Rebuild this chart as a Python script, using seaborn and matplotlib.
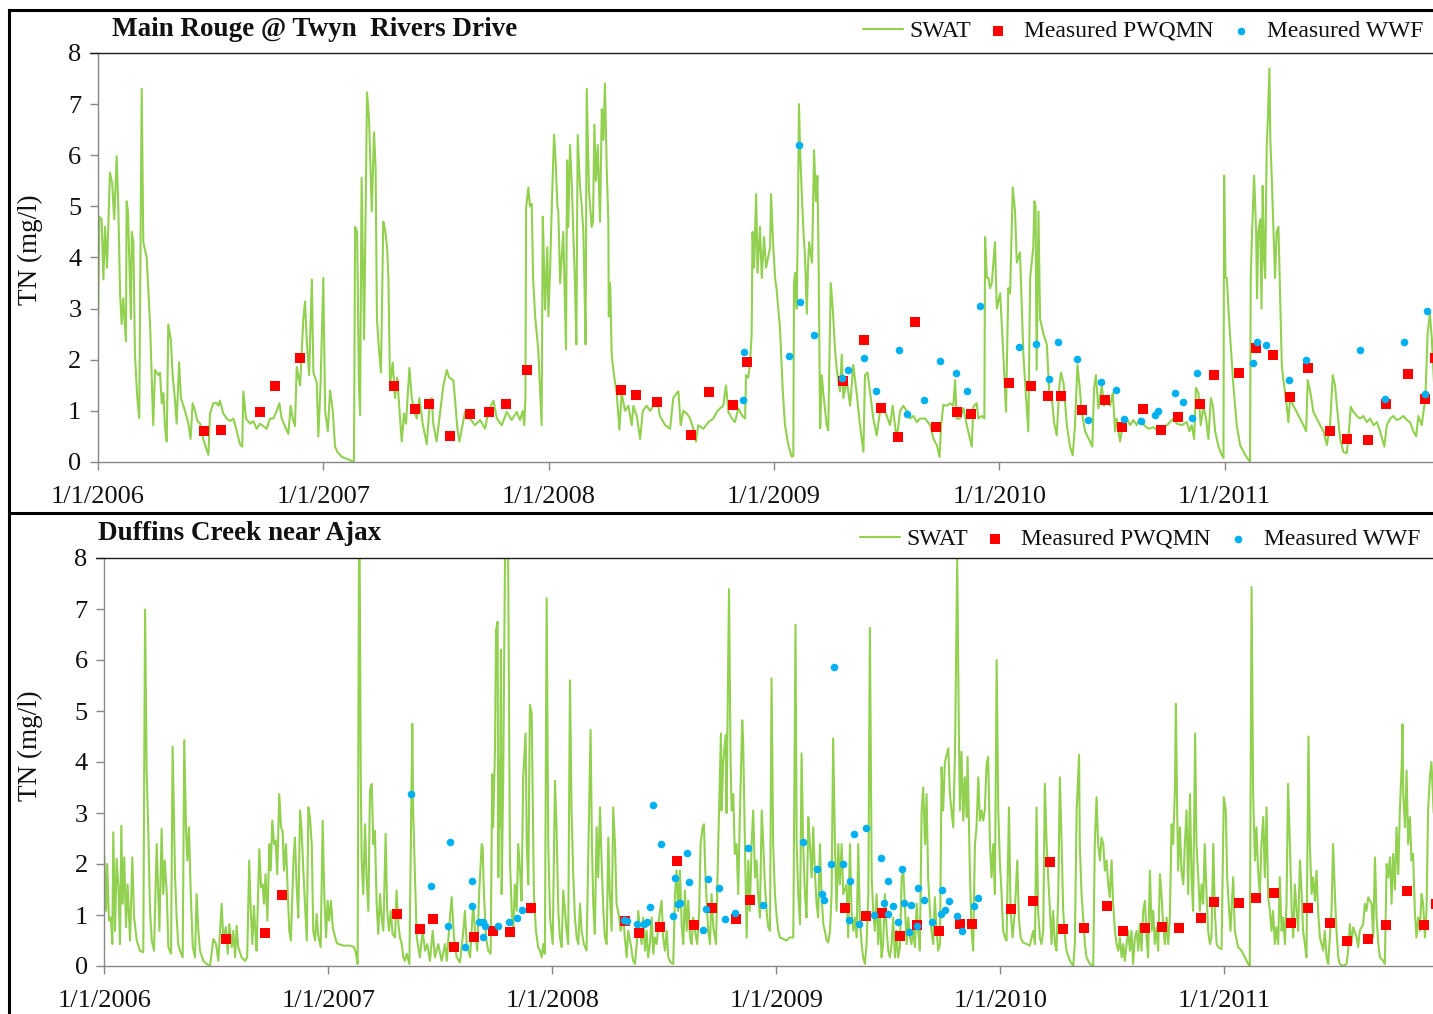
import matplotlib
matplotlib.use("Agg")
import matplotlib.pyplot as plt
from matplotlib.lines import Line2D
import pandas as pd
import seaborn as sns

sns.set_theme(style="ticks")
plt.rcParams["font.family"] = ["Liberation Serif", "DejaVu Serif"]

# ---------------- data ----------------
START_YEAR = 2006                      # x values below are years since 1/1/2006
tick_years = [2006, 2007, 2008, 2009, 2010, 2011]
tick_labels = ["1/1/2006", "1/1/2007", "1/1/2008", "1/1/2009", "1/1/2010", "1/1/2011"]
y_ticks = [0, 1, 2, 3, 4, 5, 6, 7, 8]
panel_titles = ["Main Rouge @ Twyn  Rivers Drive", "Duffins Creek near Ajax"]
series_names = ["SWAT", "Measured PWQMN", "Measured WWF"]
y_label = "TN (mg/l)"

rouge_swat = [(0.001,2.88),(0.006,4.8),(0.016,4.75),(0.024,3.57),(0.031,4.6),(0.040,3.8),(0.053,5.66),(0.063,5.45),(0.072,4.75),(0.083,5.98),(0.090,5.0),(0.098,3.3),(0.105,2.7),(0.112,3.2),(0.124,2.36),(0.127,5.1),(0.133,4.9),(0.146,2.8),(0.150,4.5),(0.157,4.3),(0.164,2.1),(0.174,1.28),(0.183,0.86),(0.194,7.3),(0.201,4.3),(0.216,4.0),(0.223,3.4),(0.231,2.7),(0.245,0.72),(0.253,1.8),(0.268,1.7),(0.275,1.75),(0.283,1.15),(0.290,1.35),(0.297,0.7),(0.305,0.4),(0.312,2.69),(0.323,2.4),(0.332,1.65),(0.342,1.2),(0.349,0.75),(0.360,1.95),(0.368,1.25),(0.379,1.1),(0.386,1.0),(0.401,0.75),(0.411,0.45),(0.420,1.15),(0.431,1.0),(0.441,0.8),(0.453,0.75),(0.467,0.45),(0.482,0.25),(0.490,0.14),(0.497,0.95),(0.512,1.15),(0.527,1.15),(0.534,1.1),(0.541,1.2),(0.556,0.95),(0.571,0.85),(0.586,0.8),(0.601,0.85),(0.616,0.6),(0.630,0.35),(0.640,0.3),(0.645,1.38),(0.657,0.85),(0.675,0.75),(0.689,0.8),(0.704,0.65),(0.719,0.75),(0.734,0.7),(0.749,0.65),(0.763,0.85),(0.778,0.85),(0.793,1.0),(0.805,1.15),(0.815,0.85),(0.830,0.7),(0.845,0.55),(0.855,1.1),(0.864,0.85),(0.874,0.7),(0.882,1.86),(0.897,1.5),(0.911,2.78),(0.919,3.14),(0.926,2.4),(0.937,1.7),(0.949,3.57),(0.956,1.75),(0.971,1.55),(0.978,0.5),(0.988,1.55),(1.000,3.6),(1.008,1.0),(1.020,0.6),(1.030,1.4),(1.042,1.0),(1.052,0.3),(1.062,0.2),(1.082,0.1),(1.111,0.05),(1.136,0.0),(1.141,4.6),(1.150,4.5),(1.158,1.5),(1.163,0.92),(1.170,5.56),(1.181,2.4),(1.194,7.23),(1.203,6.7),(1.215,4.9),(1.225,6.45),(1.232,5.75),(1.238,2.8),(1.247,2.2),(1.256,1.75),(1.266,4.7),(1.274,4.55),(1.283,4.2),(1.289,3.6),(1.296,1.5),(1.308,1.95),(1.318,1.25),(1.328,1.65),(1.337,1.1),(1.348,0.4),(1.358,0.95),(1.367,0.75),(1.382,1.84),(1.392,1.28),(1.403,1.0),(1.415,0.85),(1.426,1.25),(1.441,0.75),(1.459,0.35),(1.470,1.0),(1.481,1.25),(1.488,0.75),(1.503,0.4),(1.515,0.85),(1.533,1.5),(1.548,1.8),(1.559,1.65),(1.577,1.6),(1.585,1.2),(1.595,0.65),(1.604,0.4),(1.629,0.98),(1.651,0.85),(1.673,0.72),(1.696,0.82),(1.718,0.65),(1.732,0.98),(1.755,1.2),(1.770,0.85),(1.792,0.72),(1.814,0.98),(1.836,0.82),(1.858,0.98),(1.873,0.82),(1.885,1.0),(1.892,0.72),(1.897,1.25),(1.900,4.97),(1.910,5.37),(1.917,5.0),(1.925,5.05),(1.931,3.6),(1.940,2.85),(1.954,2.2),(1.962,1.4),(1.969,0.72),(1.974,4.8),(1.976,4.5),(1.984,2.98),(1.994,4.2),(1.999,2.85),(2.006,3.7),(2.014,5.0),(2.024,6.4),(2.031,5.9),(2.039,5.0),(2.043,4.9),(2.051,3.5),(2.065,4.5),(2.077,2.2),(2.082,5.9),(2.087,4.6),(2.095,6.2),(2.103,5.4),(2.110,4.4),(2.117,3.5),(2.123,2.3),(2.129,6.4),(2.139,5.4),(2.147,5.0),(2.154,4.5),(2.159,3.5),(2.164,2.3),(2.169,7.3),(2.179,5.3),(2.191,4.6),(2.197,4.7),(2.203,6.6),(2.210,5.5),(2.218,6.2),(2.228,4.7),(2.236,6.9),(2.243,6.3),(2.250,7.4),(2.258,5.7),(2.265,4.7),(2.267,2.85),(2.273,3.5),(2.280,2.1),(2.290,1.7),(2.302,1.35),(2.314,0.63),(2.324,1.35),(2.339,1.0),(2.354,1.1),(2.369,0.72),(2.376,1.1),(2.391,0.9),(2.406,0.45),(2.418,1.0),(2.435,1.1),(2.450,1.0),(2.465,1.1),(2.480,1.25),(2.494,0.9),(2.517,0.72),(2.539,0.65),(2.553,1.25),(2.569,1.35),(2.576,1.38),(2.586,0.72),(2.598,1.0),(2.613,0.95),(2.628,0.85),(2.642,0.65),(2.654,0.4),(2.664,0.72),(2.687,0.65),(2.709,0.78),(2.731,0.85),(2.746,0.98),(2.761,1.05),(2.775,1.1),(2.787,1.5),(2.798,0.98),(2.813,0.85),(2.827,0.78),(2.842,1.05),(2.857,0.92),(2.872,0.85),(2.876,1.7),(2.886,1.65),(2.894,1.95),(2.901,2.5),(2.905,4.5),(2.912,3.8),(2.921,5.24),(2.927,3.7),(2.938,4.6),(2.946,3.6),(2.956,4.4),(2.965,3.8),(2.983,4.2),(2.987,5.24),(2.996,4.3),(3.005,3.6),(3.012,3.37),(3.027,2.6),(3.039,1.4),(3.049,0.72),(3.064,0.33),(3.079,0.1),(3.086,0.12),(3.089,3.5),(3.094,3.7),(3.101,3.0),(3.107,5.0),(3.111,7.0),(3.116,6.1),(3.123,5.3),(3.131,4.5),(3.138,4.0),(3.146,2.9),(3.151,3.8),(3.156,4.3),(3.169,3.9),(3.178,6.1),(3.186,5.1),(3.193,5.6),(3.198,4.0),(3.205,0.66),(3.212,1.7),(3.219,1.35),(3.234,0.72),(3.241,0.62),(3.252,3.5),(3.261,3.0),(3.271,2.2),(3.279,1.8),(3.293,1.38),(3.301,2.1),(3.308,1.25),(3.323,1.6),(3.338,1.1),(3.352,1.9),(3.367,1.35),(3.382,0.72),(3.397,0.2),(3.404,1.7),(3.415,1.75),(3.427,1.35),(3.441,0.85),(3.456,0.52),(3.471,1.0),(3.486,1.05),(3.501,0.9),(3.515,0.72),(3.527,1.1),(3.537,0.72),(3.545,0.45),(3.560,1.0),(3.574,1.1),(3.589,1.0),(3.604,0.85),(3.619,0.9),(3.634,0.78),(3.648,0.85),(3.671,0.85),(3.693,0.72),(3.708,0.45),(3.723,0.33),(3.735,0.1),(3.742,0.72),(3.752,1.12),(3.767,1.1),(3.782,1.15),(3.796,1.1),(3.804,1.6),(3.811,0.85),(3.826,0.85),(3.841,1.05),(3.856,0.72),(3.878,0.3),(3.885,1.08),(3.900,1.15),(3.907,0.85),(3.922,0.9),(3.934,0.85),(3.937,4.4),(3.945,3.6),(3.952,3.6),(3.959,3.4),(3.967,3.5),(3.981,4.3),(3.989,3.0),(4.004,3.3),(4.018,2.1),(4.030,0.98),(4.040,3.4),(4.048,3.3),(4.060,5.37),(4.070,4.9),(4.078,3.9),(4.092,4.1),(4.107,2.1),(4.119,1.25),(4.129,0.6),(4.137,3.6),(4.151,4.2),(4.156,5.1),(4.161,5.0),(4.166,1.8),(4.174,4.9),(4.181,2.8),(4.196,2.5),(4.211,2.3),(4.222,1.35),(4.233,1.28),(4.243,0.78),(4.255,0.52),(4.267,1.5),(4.274,1.75),(4.285,1.55),(4.300,0.72),(4.314,0.3),(4.326,0.13),(4.336,0.72),(4.347,1.9),(4.356,1.5),(4.366,0.98),(4.381,0.6),(4.403,0.4),(4.413,0.3),(4.421,1.45),(4.429,1.7),(4.440,1.05),(4.455,1.5),(4.465,1.1),(4.477,1.25),(4.492,1.1),(4.504,1.35),(4.514,0.6),(4.521,0.85),(4.536,0.4),(4.548,0.72),(4.566,0.85),(4.581,0.72),(4.595,0.82),(4.610,0.72),(4.625,0.85),(4.643,0.72),(4.662,0.65),(4.684,0.68),(4.706,0.6),(4.728,0.65),(4.751,0.75),(4.773,0.85),(4.788,0.75),(4.810,0.72),(4.832,0.78),(4.844,0.6),(4.854,0.72),(4.865,0.45),(4.873,1.45),(4.884,1.35),(4.894,0.72),(4.906,1.08),(4.918,0.85),(4.928,0.45),(4.939,1.25),(4.948,1.1),(4.958,0.6),(4.973,0.3),(4.988,0.13),(4.995,0.08),(4.998,5.6),(5.004,3.6),(5.010,3.6),(5.017,3.0),(5.024,2.5),(5.039,1.5),(5.054,0.72),(5.069,0.33),(5.091,0.14),(5.113,0.0),(5.116,3.6),(5.122,4.5),(5.131,5.6),(5.140,4.5),(5.144,3.2),(5.150,4.5),(5.158,4.75),(5.164,3.0),(5.169,5.4),(5.175,4.0),(5.180,3.6),(5.187,6.2),(5.192,6.7),(5.199,7.7),(5.203,6.3),(5.209,5.6),(5.217,4.5),(5.224,3.6),(5.231,4.5),(5.239,4.6),(5.246,3.3),(5.254,1.9),(5.261,1.6),(5.276,1.1),(5.283,0.78),(5.291,1.25),(5.305,1.1),(5.320,0.98),(5.335,0.85),(5.350,0.72),(5.362,0.6),(5.369,1.6),(5.380,1.38),(5.394,0.98),(5.409,0.85),(5.424,0.72),(5.439,0.6),(5.454,0.33),(5.468,0.72),(5.480,1.7),(5.490,1.5),(5.501,0.98),(5.513,0.45),(5.527,0.2),(5.542,0.17),(5.549,0.45),(5.560,1.08),(5.572,0.98),(5.587,0.9),(5.601,0.85),(5.616,0.9),(5.631,0.78),(5.646,0.85),(5.661,0.72),(5.676,0.78),(5.690,0.6),(5.709,0.3),(5.720,0.72),(5.735,0.85),(5.749,0.9),(5.764,0.82),(5.779,0.85),(5.794,0.9),(5.809,0.82),(5.823,0.78),(5.838,0.6),(5.850,0.5),(5.860,0.9),(5.875,0.72),(5.891,1.25),(5.901,2.5),(5.911,2.9),(5.920,2.4),(5.930,1.5)]

rouge_pwqmn = [(0.472,0.61),(0.545,0.62),(0.720,0.97),(0.787,1.49),(0.895,2.03),(1.312,1.49),(1.406,1.04),(1.470,1.14),(1.562,0.50),(1.653,0.93),(1.735,0.97),(1.811,1.14),(1.904,1.79),(2.323,1.40),(2.387,1.31),(2.480,1.17),(2.633,0.53),(2.711,1.36),(2.820,1.11),(2.881,1.96),(3.308,1.59),(3.400,2.39),(3.474,1.05),(3.549,0.48),(3.626,2.73),(3.719,0.69),(3.813,0.97),(3.873,0.93),(4.043,1.54),(4.141,1.48),(4.218,1.29),(4.274,1.29),(4.369,1.01),(4.470,1.21),(4.546,0.68),(4.640,1.04),(4.717,0.62),(4.794,0.88),(4.893,1.14),(4.952,1.70),(5.063,1.74),(5.138,2.23),(5.217,2.09),(5.291,1.28),(5.369,1.83),(5.467,0.60),(5.544,0.45),(5.638,0.43),(5.715,1.14),(5.813,1.72),(5.890,1.24),(5.934,2.04)]

rouge_wwf = [(2.864,1.22),(2.867,2.16),(3.068,2.08),(3.111,6.2),(3.116,3.12),(3.179,2.48),(3.304,1.65),(3.328,1.79),(3.400,2.03),(3.452,1.39),(3.555,2.20),(3.589,0.94),(3.667,1.22),(3.737,1.97),(3.807,1.75),(3.858,1.39),(3.916,3.05),(4.088,2.24),(4.163,2.31),(4.220,1.62),(4.262,2.35),(4.347,2.02),(4.394,0.83),(4.453,1.56),(4.518,1.41),(4.555,0.85),(4.629,0.81),(4.693,0.91),(4.706,1.0),(4.782,1.34),(4.817,1.17),(4.857,0.87),(4.876,1.75),(5.126,1.94),(5.144,2.34),(5.184,2.29),(5.285,1.60),(5.360,2.0),(5.601,2.19),(5.714,1.23),(5.795,2.34),(5.890,1.33),(5.900,2.96)]

duffins_swat = [(0.000,2.16),(0.008,1.08),(0.013,2.0),(0.021,0.89),(0.029,0.95),(0.036,0.43),(0.040,2.62),(0.048,0.69),(0.055,2.1),(0.063,1.54),(0.070,0.43),(0.076,2.75),(0.082,1.22),(0.089,2.13),(0.097,0.76),(0.104,1.6),(0.115,0.5),(0.125,2.13),(0.133,0.95),(0.145,0.5),(0.159,0.3),(0.174,0.27),(0.182,6.99),(0.189,3.83),(0.196,2.72),(0.204,1.1),(0.212,0.5),(0.222,0.3),(0.234,2.39),(0.246,0.69),(0.256,2.69),(0.263,1.41),(0.270,2.07),(0.279,1.41),(0.286,0.37),(0.298,0.24),(0.305,4.3),(0.316,1.74),(0.323,0.95),(0.330,0.43),(0.338,0.3),(0.350,0.17),(0.357,4.43),(0.365,2.65),(0.371,2.07),(0.378,2.72),(0.386,1.41),(0.395,0.37),(0.405,0.17),(0.412,1.41),(0.420,0.69),(0.427,0.3),(0.442,0.1),(0.457,0.04),(0.472,0.0),(0.487,0.53),(0.499,0.43),(0.509,0.1),(0.524,1.22),(0.531,0.56),(0.543,0.76),(0.551,0.24),(0.558,0.82),(0.569,0.37),(0.576,0.69),(0.584,0.17),(0.591,0.79),(0.598,0.37),(0.613,0.17),(0.628,0.1),(0.638,0.17),(0.647,2.07),(0.654,1.08),(0.661,0.43),(0.668,1.18),(0.674,0.69),(0.680,0.3),(0.692,2.29),(0.700,1.54),(0.707,1.6),(0.713,1.22),(0.720,1.8),(0.728,0.89),(0.737,2.39),(0.743,1.87),(0.750,2.85),(0.758,2.39),(0.765,2.46),(0.772,1.8),(0.781,3.37),(0.789,2.72),(0.796,2.65),(0.802,1.87),(0.811,2.39),(0.817,1.67),(0.826,0.69),(0.833,0.5),(0.844,2.0),(0.851,2.52),(0.859,1.54),(0.866,0.95),(0.874,3.05),(0.881,2.65),(0.888,1.93),(0.896,1.22),(0.904,0.5),(0.911,3.11),(0.918,2.92),(0.926,2.39),(0.933,0.69),(0.941,0.5),(0.948,1.02),(0.955,0.6),(0.966,0.37),(0.975,2.85),(0.982,1.41),(0.990,0.56),(0.997,1.28),(1.004,0.89),(1.012,1.28),(1.020,0.76),(1.027,0.63),(1.037,0.46),(1.045,0.43),(1.067,0.4),(1.097,0.4),(1.115,0.37),(1.124,0.24),(1.131,0.04),(1.137,8.0),(1.140,8.0),(1.145,3.7),(1.149,2.07),(1.156,1.41),(1.164,2.78),(1.171,1.74),(1.179,1.08),(1.186,3.44),(1.194,3.57),(1.201,2.39),(1.208,2.65),(1.216,1.22),(1.223,0.63),(1.231,1.41),(1.238,0.95),(1.246,0.69),(1.256,2.59),(1.263,1.08),(1.271,0.69),(1.279,1.08),(1.287,0.63),(1.298,0.56),(1.305,1.48),(1.313,0.82),(1.320,0.56),(1.328,0.43),(1.335,0.17),(1.342,0.1),(1.350,0.24),(1.362,0.04),(1.375,4.75),(1.379,3.05),(1.387,1.74),(1.395,0.56),(1.409,0.17),(1.421,0.69),(1.432,0.3),(1.442,0.43),(1.454,0.1),(1.466,0.69),(1.476,0.17),(1.491,0.43),(1.506,0.1),(1.521,0.43),(1.529,0.1),(1.543,0.95),(1.551,1.35),(1.561,0.56),(1.573,0.17),(1.588,0.07),(1.603,0.69),(1.610,1.08),(1.618,0.43),(1.633,0.17),(1.647,1.22),(1.655,0.69),(1.665,0.3),(1.674,1.48),(1.685,2.39),(1.689,2.33),(1.695,1.41),(1.704,0.56),(1.714,0.3),(1.725,0.24),(1.732,3.76),(1.736,2.72),(1.744,4.2),(1.749,6.59),(1.756,6.75),(1.759,1.74),(1.763,4.04),(1.766,2.72),(1.771,6.2),(1.774,1.41),(1.781,3.7),(1.789,8.0),(1.798,8.0),(1.803,8.0),(1.811,2.07),(1.819,1.08),(1.826,0.69),(1.833,1.6),(1.841,1.08),(1.848,2.39),(1.856,1.87),(1.863,1.28),(1.870,3.7),(1.881,4.56),(1.886,2.39),(1.893,1.6),(1.900,5.12),(1.908,4.96),(1.912,3.5),(1.918,1.41),(1.927,0.69),(1.937,0.37),(1.945,0.3),(1.953,0.17),(1.960,0.43),(1.967,0.24),(1.975,7.21),(1.982,2.39),(1.990,0.95),(2.002,0.43),(2.012,3.63),(2.019,2.72),(2.027,1.08),(2.034,0.56),(2.042,0.37),(2.049,1.48),(2.057,1.08),(2.064,0.69),(2.071,0.43),(2.079,5.6),(2.086,3.05),(2.094,1.74),(2.101,0.95),(2.109,0.56),(2.116,0.43),(2.124,1.22),(2.131,0.69),(2.141,0.43),(2.153,0.3),(2.171,4.63),(2.177,2.39),(2.183,1.22),(2.190,0.63),(2.198,2.72),(2.205,1.74),(2.213,3.11),(2.220,2.07),(2.228,1.08),(2.235,0.56),(2.243,0.43),(2.250,2.52),(2.257,1.41),(2.265,0.69),(2.272,3.11),(2.280,2.39),(2.287,1.22),(2.299,0.95),(2.305,0.69),(2.317,0.95),(2.324,0.56),(2.332,0.17),(2.339,0.69),(2.350,0.43),(2.361,0.1),(2.369,0.04),(2.377,0.43),(2.384,1.08),(2.391,0.69),(2.399,0.43),(2.406,0.95),(2.414,0.3),(2.421,0.69),(2.428,0.17),(2.436,0.43),(2.444,0.95),(2.451,0.24),(2.458,0.56),(2.466,0.43),(2.477,0.95),(2.488,1.28),(2.495,0.56),(2.503,0.3),(2.511,0.69),(2.518,0.17),(2.528,0.07),(2.540,0.04),(2.548,1.41),(2.555,1.87),(2.562,1.08),(2.570,1.87),(2.578,0.76),(2.585,0.43),(2.592,1.48),(2.600,0.69),(2.607,1.28),(2.615,0.56),(2.622,0.43),(2.629,0.95),(2.637,0.69),(2.647,0.43),(2.656,1.08),(2.662,2.39),(2.671,2.72),(2.677,2.78),(2.683,1.87),(2.689,1.28),(2.696,0.69),(2.704,0.43),(2.711,1.41),(2.719,0.76),(2.731,0.43),(2.741,2.39),(2.753,4.56),(2.756,3.05),(2.763,4.0),(2.774,4.53),(2.778,3.0),(2.789,7.39),(2.796,4.0),(2.801,3.05),(2.808,3.37),(2.815,2.2),(2.823,2.39),(2.830,1.41),(2.838,3.05),(2.848,4.82),(2.852,4.43),(2.860,2.39),(2.868,0.56),(2.875,2.07),(2.882,1.08),(2.890,2.39),(2.897,3.05),(2.905,1.74),(2.912,2.07),(2.919,1.41),(2.927,0.95),(2.935,3.05),(2.942,2.39),(2.949,1.6),(2.957,1.08),(2.964,0.76),(2.972,0.69),(2.979,5.64),(2.986,2.39),(2.994,1.41),(3.002,0.95),(3.009,0.69),(3.016,0.56),(3.031,0.53),(3.046,0.5),(3.061,0.56),(3.076,0.56),(3.086,6.69),(3.091,2.39),(3.098,1.41),(3.106,0.82),(3.113,4.17),(3.120,2.39),(3.128,1.41),(3.135,0.95),(3.143,2.92),(3.150,2.39),(3.158,1.74),(3.165,2.72),(3.172,1.87),(3.180,1.22),(3.187,0.95),(3.195,2.39),(3.202,1.41),(3.210,0.82),(3.217,0.69),(3.225,0.5),(3.232,0.46),(3.240,0.69),(3.247,1.41),(3.254,4.46),(3.262,2.39),(3.269,1.08),(3.277,2.39),(3.284,1.6),(3.292,2.39),(3.299,1.41),(3.314,1.6),(3.321,0.56),(3.329,2.39),(3.336,1.08),(3.344,0.69),(3.351,0.95),(3.359,0.56),(3.366,2.39),(3.373,0.95),(3.381,0.43),(3.388,0.17),(3.396,0.04),(3.403,0.43),(3.411,1.41),(3.418,6.63),(3.426,1.74),(3.433,1.08),(3.440,0.69),(3.448,1.41),(3.455,0.43),(3.463,1.08),(3.470,0.17),(3.477,0.43),(3.485,1.41),(3.493,0.69),(3.500,0.3),(3.507,0.17),(3.515,0.43),(3.522,0.95),(3.530,0.17),(3.537,0.69),(3.544,0.17),(3.552,0.37),(3.560,1.74),(3.567,1.87),(3.574,1.22),(3.582,0.43),(3.589,0.95),(3.597,0.56),(3.604,0.43),(3.611,0.76),(3.619,0.37),(3.627,1.22),(3.634,0.69),(3.641,0.3),(3.649,3.05),(3.656,3.5),(3.664,2.39),(3.671,3.37),(3.678,1.74),(3.686,1.08),(3.693,0.69),(3.701,0.43),(3.708,1.35),(3.716,0.69),(3.723,0.3),(3.731,0.43),(3.738,3.9),(3.745,3.05),(3.753,4.0),(3.768,4.27),(3.775,3.37),(3.790,2.72),(3.798,4.2),(3.808,8.0),(3.815,4.66),(3.820,3.05),(3.827,4.2),(3.835,2.85),(3.842,3.7),(3.850,2.92),(3.854,4.1),(3.865,1.74),(3.872,0.69),(3.879,0.3),(3.887,2.39),(3.894,2.72),(3.902,3.7),(3.909,2.85),(3.917,3.05),(3.924,2.85),(3.931,3.05),(3.939,3.96),(3.946,4.1),(3.954,2.39),(3.961,1.74),(3.969,2.39),(3.976,1.41),(3.984,6.0),(3.991,3.05),(3.998,2.07),(4.006,1.41),(4.013,0.69),(4.021,0.56),(4.028,0.5),(4.039,3.11),(4.046,1.08),(4.055,0.56),(4.065,1.08),(4.076,2.07),(4.083,0.95),(4.091,0.56),(4.102,0.46),(4.118,0.43),(4.132,0.4),(4.147,0.69),(4.155,0.43),(4.162,3.11),(4.169,1.08),(4.177,0.56),(4.184,0.43),(4.192,0.69),(4.199,3.57),(4.207,2.39),(4.214,1.74),(4.222,1.08),(4.229,0.43),(4.236,1.08),(4.244,0.43),(4.251,0.3),(4.259,1.41),(4.266,3.7),(4.274,2.39),(4.281,1.08),(4.289,0.56),(4.296,0.3),(4.311,0.1),(4.326,0.0),(4.333,0.43),(4.341,3.05),(4.352,4.14),(4.355,2.39),(4.363,1.41),(4.370,0.95),(4.378,0.43),(4.385,0.17),(4.400,0.04),(4.415,0.0),(4.422,2.39),(4.430,3.31),(4.437,2.39),(4.445,2.07),(4.452,2.52),(4.460,2.39),(4.467,1.87),(4.475,2.07),(4.482,1.6),(4.489,1.35),(4.497,2.07),(4.504,1.22),(4.512,0.69),(4.519,0.43),(4.527,0.3),(4.534,0.56),(4.542,0.17),(4.549,0.43),(4.556,0.1),(4.564,0.43),(4.571,0.69),(4.579,0.3),(4.586,0.69),(4.593,0.04),(4.601,0.56),(4.609,0.69),(4.616,0.3),(4.623,0.82),(4.631,0.3),(4.638,1.08),(4.646,1.28),(4.653,0.56),(4.660,0.17),(4.668,1.87),(4.676,0.69),(4.683,1.08),(4.690,0.43),(4.698,0.76),(4.705,0.3),(4.713,1.8),(4.720,1.41),(4.727,0.82),(4.735,0.43),(4.743,0.95),(4.750,0.43),(4.757,0.95),(4.765,2.78),(4.772,2.39),(4.780,3.5),(4.784,5.14),(4.790,3.05),(4.794,1.87),(4.802,2.72),(4.809,1.87),(4.817,1.6),(4.824,2.39),(4.832,3.05),(4.839,1.41),(4.847,3.37),(4.854,1.74),(4.861,1.08),(4.870,4.56),(4.876,2.39),(4.884,1.74),(4.891,1.08),(4.899,1.6),(4.906,1.22),(4.913,2.39),(4.921,1.41),(4.928,0.69),(4.936,0.43),(4.943,0.56),(4.951,2.39),(4.958,1.08),(4.966,0.43),(4.973,0.37),(4.988,0.33),(4.998,3.31),(5.007,3.05),(5.013,1.74),(5.022,1.08),(5.028,0.69),(5.040,1.74),(5.047,0.69),(5.062,0.37),(5.077,0.3),(5.092,0.17),(5.107,0.04),(5.114,0.0),(5.122,7.43),(5.129,3.37),(5.137,2.07),(5.144,2.72),(5.151,1.87),(5.159,1.41),(5.166,2.39),(5.174,2.92),(5.181,1.74),(5.189,3.11),(5.196,1.35),(5.204,1.08),(5.211,0.69),(5.218,1.08),(5.226,0.43),(5.233,0.76),(5.241,0.43),(5.248,1.74),(5.256,0.69),(5.263,0.95),(5.271,0.43),(5.278,1.22),(5.285,3.57),(5.293,2.39),(5.301,1.08),(5.308,0.56),(5.315,1.6),(5.323,1.08),(5.330,0.69),(5.338,2.07),(5.345,1.48),(5.352,0.69),(5.360,0.43),(5.367,0.17),(5.376,4.5),(5.382,2.39),(5.390,1.41),(5.397,1.74),(5.405,1.28),(5.412,1.87),(5.419,1.08),(5.427,0.56),(5.442,0.3),(5.449,0.69),(5.457,0.17),(5.464,0.04),(5.479,1.08),(5.486,2.39),(5.494,1.41),(5.501,0.69),(5.509,0.17),(5.516,0.04),(5.531,0.0),(5.546,0.04),(5.553,0.3),(5.561,0.82),(5.568,0.43),(5.576,0.76),(5.591,0.56),(5.598,0.37),(5.605,0.69),(5.620,0.82),(5.628,1.22),(5.635,1.08),(5.643,1.35),(5.658,1.22),(5.665,0.56),(5.673,2.13),(5.680,0.95),(5.688,0.43),(5.695,0.17),(5.710,0.1),(5.717,0.04),(5.725,2.0),(5.732,1.74),(5.740,2.13),(5.747,1.22),(5.754,2.2),(5.762,1.5),(5.769,2.72),(5.777,1.8),(5.784,3.05),(5.792,3.9),(5.796,4.74),(5.799,3.37),(5.807,2.72),(5.814,3.83),(5.821,2.39),(5.829,2.92),(5.836,2.07),(5.843,2.2),(5.851,1.08),(5.858,0.56),(5.866,0.95),(5.873,0.69),(5.881,1.41),(5.888,1.22),(5.896,0.56),(5.903,1.08),(5.910,3.05),(5.918,3.7),(5.925,4.0),(5.935,3.0)]

duffins_pwqmn = [(0.542,0.53),(0.717,0.64),(0.795,1.40),(1.308,1.01),(1.408,0.73),(1.467,0.93),(1.561,0.37),(1.652,0.56),(1.734,0.69),(1.811,0.66),(1.903,1.14),(2.324,0.89),(2.388,0.64),(2.479,0.76),(2.557,2.05),(2.634,0.81),(2.711,1.14),(2.821,0.92),(2.882,1.30),(3.306,1.14),(3.400,0.98),(3.473,1.04),(3.551,0.59),(3.629,0.80),(3.726,0.68),(3.820,0.83),(3.875,0.83),(4.048,1.11),(4.147,1.28),(4.223,2.03),(4.280,0.72),(4.373,0.74),(4.476,1.17),(4.549,0.68),(4.644,0.74),(4.720,0.76),(4.797,0.74),(4.896,0.95),(4.955,1.26),(5.068,1.24),(5.144,1.33),(5.222,1.43),(5.299,0.85),(5.375,1.13),(5.472,0.85),(5.547,0.50),(5.641,0.53),(5.720,0.81),(5.818,1.48),(5.894,0.81),(5.945,1.22)]

duffins_wwf = [(1.369,3.37),(1.458,1.56),(1.536,0.79),(1.545,2.43),(1.609,0.38),(1.640,1.66),(1.643,1.17),(1.672,0.87),(1.689,0.57),(1.692,0.87),(1.699,0.78),(1.759,0.78),(1.807,0.87),(1.841,0.94),(1.863,1.1),(2.321,0.91),(2.332,0.89),(2.377,0.82),(2.411,0.82),(2.421,0.87),(2.436,1.15),(2.448,3.16),(2.486,2.39),(2.540,0.98),(2.549,1.73),(2.562,1.22),(2.570,1.23),(2.600,2.22),(2.611,1.64),(2.673,0.7),(2.685,1.12),(2.696,1.71),(2.744,1.53),(2.771,0.92),(2.815,1.04),(2.875,2.31),(2.940,1.2),(3.118,2.44),(3.182,1.9),(3.203,1.41),(3.213,1.3),(3.243,2.0),(3.256,5.87),(3.299,2.0),(3.324,0.9),(3.329,1.66),(3.348,2.58),(3.370,0.82),(3.400,2.71),(3.435,1.0),(3.466,2.12),(3.482,1.24),(3.497,1.01),(3.500,1.66),(3.522,1.17),(3.542,0.87),(3.560,1.9),(3.571,1.24),(3.594,0.66),(3.600,1.19),(3.629,0.79),(3.634,1.53),(3.658,1.3),(3.696,0.87),(3.734,1.01),(3.740,1.5),(3.753,1.1),(3.771,1.27),(3.805,0.99),(3.829,0.68),(3.884,1.18),(3.899,1.34)]

# ---------------- style ----------------
GREEN = "#92D050"
RED = "#FF0000"
BLUE = "#00B0F0"
AXIS_GREY = "#878787"

W, H = 1433, 1014
fig = plt.figure(figsize=(W / 100, H / 100), dpi=100)
fig.patch.set_facecolor("white")


def frame(rows):
    return pd.DataFrame(rows, columns=["t", "tn"]).assign(date=lambda d: START_YEAR + d["t"])


panels = [
    dict(swat=rouge_swat, pw=rouge_pwqmn, wwf=rouge_wwf, title=panel_titles[0],
         pos=[98, 53, 462], xmax=5.925, title_xy=(112, 30), legend_xy=(1423, 31),
         ylab_xy=(-0.041, 0.52)),
    dict(swat=duffins_swat, pw=duffins_pwqmn, wwf=duffins_wwf, title=panel_titles[1],
         pos=[104.3, 558, 966], xmax=5.932, title_xy=(98, 533), legend_xy=(1420, 539),
         ylab_xy=(-0.046, 0.54)),
]

for p in panels:
    left, top, bottom = p["pos"]
    ax = fig.add_axes([left / W, 1 - bottom / H, 1 - left / W, (bottom - top) / H])
    ax.set_facecolor("white")

    sns.lineplot(data=frame(p["swat"]), x="date", y="tn", ax=ax, color=GREEN,
                 linewidth=1.5, estimator=None, sort=False, label=series_names[0])
    sns.scatterplot(data=frame(p["pw"]), x="date", y="tn", ax=ax, color=RED,
                    marker="s", s=48, linewidth=0, label=series_names[1], zorder=3)
    sns.scatterplot(data=frame(p["wwf"]), x="date", y="tn", ax=ax, color=BLUE,
                    marker="o", s=30, linewidth=0, label=series_names[2], zorder=4)

    ax.set_xlim(START_YEAR, START_YEAR + p["xmax"])
    ax.set_ylim(0, 8)
    ax.set_xticks(tick_years)
    ax.set_xticklabels(tick_labels)
    ax.set_yticks(y_ticks)
    ax.set_xlabel("")
    ax.set_ylabel(y_label, fontsize=19.5, color="#111111")
    ax.yaxis.set_label_coords(*p["ylab_xy"])

    for side in ["right", "top"]:
        ax.spines[side].set_visible(False)
    for side in ["left", "bottom"]:
        ax.spines[side].set_color(AXIS_GREY)
        ax.spines[side].set_linewidth(1.0)
    ax.tick_params(axis="both", direction="out", length=6, width=1.0,
                   color=AXIS_GREY, labelsize=19, labelcolor="#111111")
    ax.tick_params(axis="y", pad=6)
    ax.tick_params(axis="x", pad=11)

    # plot-area top edge (dark), starting at the tick marks
    fig.add_artist(Line2D([(left - 8) / W, 1.0], [1 - top / H, 1 - top / H],
                          color="#1a1a1a", linewidth=1.0))

    fig.text(p["title_xy"][0] / W, 1 - p["title_xy"][1] / H, p["title"],
             fontsize=19.5, fontweight="bold", ha="left", va="center", color="#111111")

    ax.legend(loc="center right",
              bbox_to_anchor=(p["legend_xy"][0] / W, 1 - p["legend_xy"][1] / H),
              bbox_transform=fig.transFigure, ncol=3, frameon=False, fontsize=17,
              handlelength=1.7, handletextpad=0.25, columnspacing=0.3,
              borderpad=0, borderaxespad=0, labelcolor="#111111")

# outer panel frames
for xs, ys in [([9 / W, 9 / W], [0, 1 - 10 / H]),
               ([9 / W, 1.0], [1 - 10 / H, 1 - 10 / H]),
               ([9 / W, 1.0], [1 - 513 / H, 1 - 513 / H])]:
    fig.add_artist(Line2D(xs, ys, color="black", linewidth=2.2, solid_capstyle="projecting"))

fig.savefig("out.png", dpi=100, facecolor="white")
